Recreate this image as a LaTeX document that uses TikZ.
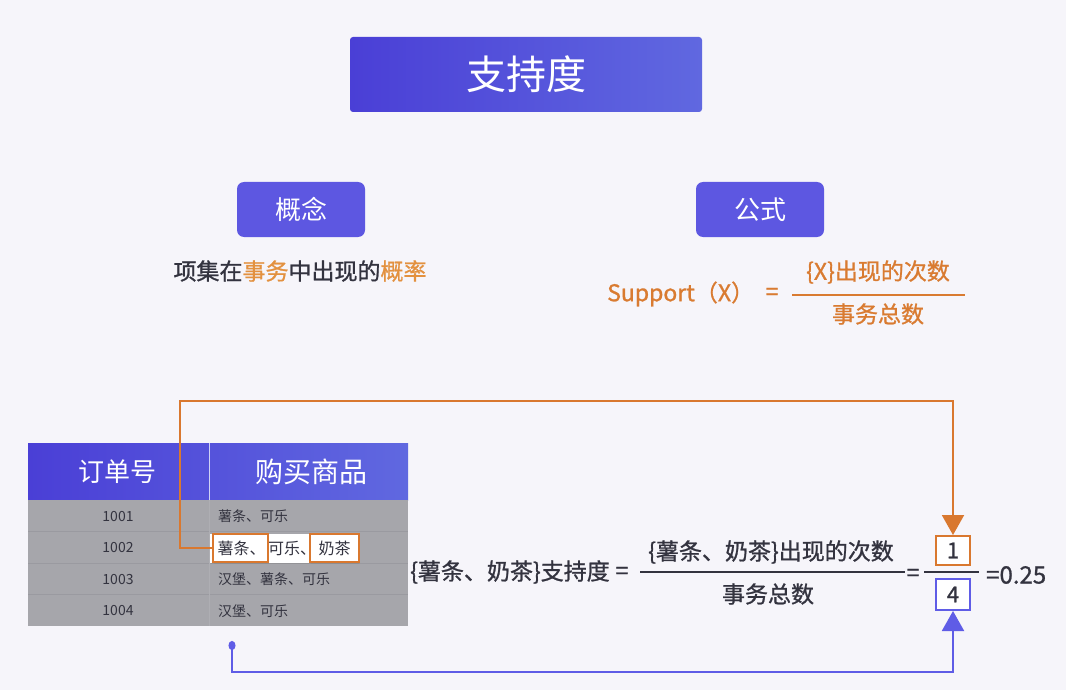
\documentclass[tikz,border=0pt]{standalone}
\usepackage{fontspec}
\setmainfont{Noto Sans CJK SC}
\newfontfamily\mediumfont{Noto Sans CJK SC}[FakeBold=1]
\usetikzlibrary{positioning,arrows.meta,calc,shadows}

\definecolor{bgpaper}{HTML}{F6F5FA}
\definecolor{titleL}{HTML}{4A3FD6}
\definecolor{titleR}{HTML}{6068E0}
\definecolor{tagblue}{HTML}{5D57E1}
\definecolor{inkdark}{HTML}{33333F}
\definecolor{hiorange}{HTML}{E3913F}
\definecolor{fmorange}{HTML}{D97B31}
\definecolor{linkorange}{HTML}{D9782F}
\definecolor{linkblue}{HTML}{5F5CE6}
\definecolor{rowgray}{HTML}{A6A6AB}
\definecolor{rowline}{HTML}{9A9AA0}

\newcommand{\setfs}[1]{\fontsize{#1}{#1}\selectfont}

\tikzset{
  tagbox/.style={fill=tagblue, rounded corners=7pt, text=white, font=\setfs{26},
    minimum width=128, minimum height=55, inner sep=0},
  plaintext/.style={inner sep=0, text=inkdark, font=\mediumfont\setfs{23}},
  celltext/.style={inner sep=0, text=inkdark, font=\setfs{14}},
  pickbox/.style={draw=linkorange, line width=2, fill=white, minimum height=28,
    inner sep=0, text=inkdark, font=\setfs{16}},
  numbox/.style={line width=2, fill=white, minimum width=34, inner sep=0,
    text=inkdark, font=\mediumfont\setfs{22}},
  orangelink/.style={draw=linkorange, line width=2, -{Triangle[length=20pt,width=22pt]}},
  bluelink/.style={draw=linkblue, line width=2,
    {Circle[length=9pt,width=7pt]}-{Triangle[length=20pt,width=22pt]}}
}

\begin{document}
\begin{tikzpicture}[x=1pt, y=-1pt]
% ---- Page ----
\fill[bgpaper] (0,0) rectangle (1066,690);
\useasboundingbox (0,0) rectangle (1066,690);

% ---- Title and the two tags ----
\node[left color=titleL, right color=titleR, rounded corners=3pt, text=white,
  font=\setfs{40}, minimum width=352, minimum height=75, inner sep=0] (title) at (526,74.5) {支持度};
\node[tagbox] (concept) at (301,209.5) {概念};
\node[tagbox] (formula) at (760,209.5) {公式};

% ---- Concept text ----
\node[plaintext] (conceptdef) at (300,271) {项集在\textcolor{hiorange}{事务}中出现的\textcolor{hiorange}{概率}};

% ---- Support formula (orange) ----
\node[plaintext, text=fmorange, anchor=west] (suplhs) at (607,294) {Support（X）};
\node[plaintext, text=fmorange] (supeq) at (772,294) {=};
\node[plaintext, text=fmorange] (supnum) at (878,272) {\{X\}出现的次数};
\node[plaintext, text=fmorange] (supden) at (878,314) {事务总数};
\draw[fmorange, line width=2] (792,295) -- (965,295);

% ---- Order table ----
% header
\shade[left color=titleL, right color=titleR] (28,443) rectangle (408,500);
\node[inner sep=0, text=white, font=\setfs{26}] (hdrid) at (117,472) {订单号};
\node[inner sep=0, text=white, font=\setfs{28}] (hdritems) at (311,472) {购买商品};
% body
\fill[rowgray] (28,500) rectangle (408,626);
\foreach \y in {531.5,563,594.5} {
  \draw[rowline, line width=0.8] (28,\y) -- (408,\y);
}
\draw[white!70!titleR, line width=0.8] (209,443) -- (209,500);
\draw[rowline!80!white, line width=0.8] (209,500) -- (209,626);
\foreach \k/\num in {0/1001,1/1002,2/1003,3/1004} {
  \node[celltext] (id\num) at (118,{516.5+31.5*\k}) {\num};
}
\node[celltext, anchor=west] (it1001) at (218,516.5) {薯条、可乐};
\node[celltext, anchor=west] (it1003) at (218,579.5) {汉堡、薯条、可乐};
\node[celltext, anchor=west] (it1004) at (218,611) {汉堡、可乐};

% row 1002, highlighted
\node[fill=white, minimum width=148, minimum height=29, inner sep=0,
  drop shadow={shadow xshift=1pt, shadow yshift=-1.5pt, opacity=0.25}] (hlrow) at (284,548) {};
\node[inner sep=0, text=inkdark, font=\setfs{16}, anchor=west] (midtxt) at (268,548) {可乐、};
\node[pickbox, minimum width=55, anchor=west, text width=50, align=right,
  drop shadow={shadow xshift=1pt, shadow yshift=-1.5pt, opacity=0.3}] (pickA) at (212,548) {薯条、};
\node[pickbox, minimum width=49, anchor=west,
  drop shadow={shadow xshift=1pt, shadow yshift=-1.5pt, opacity=0.3}] (pickB) at (309,548) {奶茶};

% ---- Worked example ----
\node[plaintext, anchor=west] (exlhs) at (410,572) {\{薯条、奶茶\}支持度};
\node[plaintext] (exeq) at (622,573) {=};
\node[plaintext] (exnum) at (771,552) {\{薯条、奶茶\}出现的次数};
\node[plaintext] (exden) at (768,594) {事务总数};
\draw[inkdark, line width=1.5] (640,572) -- (905,572);
\node[plaintext] (exeq2) at (913,575) {=};
\draw[inkdark, line width=1.5] (924,572) -- (979,572);
\node[numbox, draw=linkorange, minimum height=29] (one) at (953,550.5) {1};
\node[numbox, draw=linkblue, minimum height=31] (four) at (953,594.5) {4};
\node[plaintext, font=\mediumfont\setfs{24}, anchor=west] (exres) at (986,575) {=0.25};

% ---- Connectors ----
\coordinate (orTurn) at (180,401);
\coordinate (blStart) at (232,641);
\coordinate (blTurn) at (232,672);
\draw[orangelink] (pickA.west) -| (orTurn) -| (one.north);
\draw[bluelink] (blStart) -- (blTurn) -| (four.south);

\end{tikzpicture}
\end{document}
